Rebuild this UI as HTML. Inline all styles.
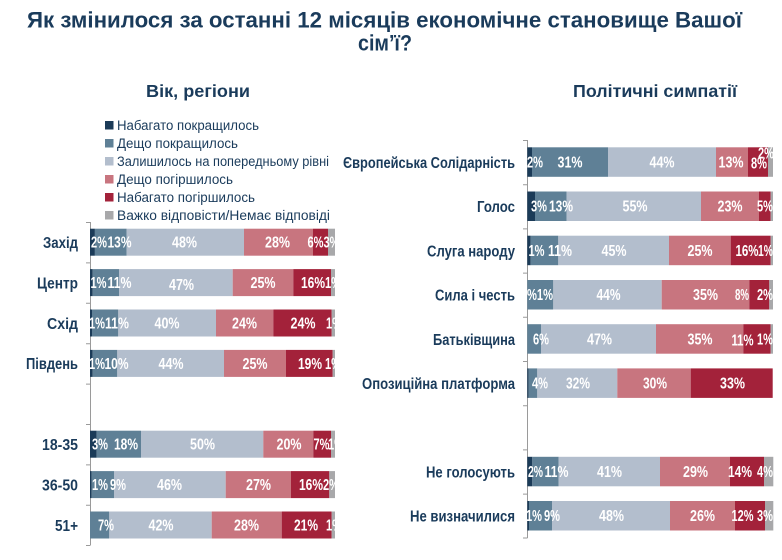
<!DOCTYPE html>
<html><head><meta charset="utf-8"><style>
html,body{margin:0;padding:0;background:#fff;}
svg{display:block;}
text{font-family:"Liberation Sans","DejaVu Sans",sans-serif;}
.t{fill:#1a3b5b;font-weight:bold;font-size:22px;}
.h{fill:#1a3b5b;font-weight:bold;font-size:17.5px;}
.c{fill:#1a3b5b;font-weight:bold;font-size:16px;text-anchor:end;}
.p{fill:#fff;font-weight:bold;font-size:15.5px;text-anchor:middle;}
.l{fill:#1a3b5b;font-size:13.5px;}
.N{fill:#1b3b58}.S{fill:#5f8096}.L{fill:#b3becd}.P{fill:#c8757f}.C{fill:#a3223a}.G{fill:#a8a8aa}
.ax{stroke:#9a9a9a;stroke-width:1;fill:none;}
</style></head><body>
<svg width="782" height="560" viewBox="0 0 782 560" xmlns="http://www.w3.org/2000/svg">
<defs>
<clipPath id="cl"><rect x="0" y="200" width="336" height="360"/></clipPath>
<clipPath id="cr"><rect x="330" y="130" width="444" height="420"/></clipPath>
</defs>
<rect width="782" height="560" fill="#fff"/>

<!-- Title -->
<text class="t" x="27" y="27.5" textLength="715" lengthAdjust="spacingAndGlyphs">Як змінилося за останні 12 місяців економічне становище Вашої</text>
<text class="t" x="358" y="50.5" textLength="54" lengthAdjust="spacingAndGlyphs">сім’ї?</text>
<text class="h" x="146" y="97" textLength="104" lengthAdjust="spacingAndGlyphs">Вік, регіони</text>
<text class="h" x="573" y="97" textLength="164" lengthAdjust="spacingAndGlyphs">Політичні симпатії</text>

<!-- Legend -->
<rect class="N" x="105" y="121" width="8.5" height="8.5"/>
<text class="l" x="117" y="129.8" textLength="142" lengthAdjust="spacingAndGlyphs">Набагато покращилось</text>
<rect class="S" x="105" y="139" width="8.5" height="8.5"/>
<text class="l" x="117" y="147.8" textLength="121" lengthAdjust="spacingAndGlyphs">Дещо покращилось</text>
<rect class="L" x="105" y="157" width="8.5" height="8.5"/>
<text class="l" x="117" y="165.8" textLength="212" lengthAdjust="spacingAndGlyphs">Залишилось на попередньому рівні</text>
<rect class="P" x="105" y="175" width="8.5" height="8.5"/>
<text class="l" x="117" y="183.8" textLength="116" lengthAdjust="spacingAndGlyphs">Дещо погіршилось</text>
<rect class="C" x="105" y="193" width="8.5" height="8.5"/>
<text class="l" x="117" y="201.8" textLength="138" lengthAdjust="spacingAndGlyphs">Набагато погіршилось</text>
<rect class="G" x="105" y="211" width="8.5" height="8.5"/>
<text class="l" x="117" y="219.8" textLength="213" lengthAdjust="spacingAndGlyphs">Важко відповісти/Немає відповіді</text>

<!-- Left axis -->
<path class="ax" d="M90.5 222V545M86 222.5H90.5M86 262.9H90.5M86 303.3H90.5M86 343.7H90.5M86 384.1H90.5M86 424.5H90.5M86 464.9H90.5M86 505.3H90.5M86 545.5H90.5"/>

<!-- Left bars -->
<g>
<rect class="N" x="90" y="228.7" width="4.9" height="27"/><rect class="S" x="94.9" y="228.7" width="31.8" height="27"/><rect class="L" x="126.7" y="228.7" width="117.3" height="27"/><rect class="P" x="244" y="228.7" width="69" height="27"/><rect class="C" x="313" y="228.7" width="15" height="27"/><rect class="G" x="328" y="228.7" width="7" height="27"/>
<rect class="N" x="90" y="269.1" width="2.7" height="27"/><rect class="S" x="92.7" y="269.1" width="26.3" height="27"/><rect class="L" x="119" y="269.1" width="113.7" height="27"/><rect class="P" x="232.7" y="269.1" width="60.6" height="27"/><rect class="C" x="293.3" y="269.1" width="37.7" height="27"/><rect class="G" x="331" y="269.1" width="4" height="27"/>
<rect class="N" x="90" y="309.5" width="2" height="27"/><rect class="S" x="92" y="309.5" width="26.3" height="27"/><rect class="L" x="118.3" y="309.5" width="97.7" height="27"/><rect class="P" x="216" y="309.5" width="57.3" height="27"/><rect class="C" x="273.3" y="309.5" width="58.4" height="27"/><rect class="G" x="331.7" y="309.5" width="3.3" height="27"/>
<rect class="N" x="90" y="349.9" width="2.7" height="27"/><rect class="S" x="92.7" y="349.9" width="24.6" height="27"/><rect class="L" x="117.3" y="349.9" width="106.7" height="27"/><rect class="P" x="224" y="349.9" width="62" height="27"/><rect class="C" x="286" y="349.9" width="46.7" height="27"/><rect class="G" x="332.7" y="349.9" width="2.3" height="27"/>
<rect class="N" x="90" y="430.7" width="6.7" height="27"/><rect class="S" x="96.7" y="430.7" width="44.3" height="27"/><rect class="L" x="141" y="430.7" width="122.3" height="27"/><rect class="P" x="263.3" y="430.7" width="50" height="27"/><rect class="C" x="313.3" y="430.7" width="17.7" height="27"/><rect class="G" x="331" y="430.7" width="4" height="27"/>
<rect class="N" x="90" y="471.1" width="1.7" height="27"/><rect class="S" x="91.7" y="471.1" width="22.3" height="27"/><rect class="L" x="114" y="471.1" width="111.7" height="27"/><rect class="P" x="225.7" y="471.1" width="65.3" height="27"/><rect class="C" x="291" y="471.1" width="38.3" height="27"/><rect class="G" x="329.3" y="471.1" width="5.7" height="27"/>
<rect class="S" x="90" y="511.5" width="19.3" height="27"/><rect class="L" x="109.3" y="511.5" width="102.4" height="27"/><rect class="P" x="211.7" y="511.5" width="70" height="27"/><rect class="C" x="281.7" y="511.5" width="50" height="27"/><rect class="G" x="331.7" y="511.5" width="3.3" height="27"/>
</g>

<!-- Left category labels -->
<text class="c" x="78" y="248" textLength="35" lengthAdjust="spacingAndGlyphs">Захід</text>
<text class="c" x="78" y="288.4" textLength="41" lengthAdjust="spacingAndGlyphs">Центр</text>
<text class="c" x="78" y="328.8" textLength="31" lengthAdjust="spacingAndGlyphs">Схід</text>
<text class="c" x="78" y="369.2" textLength="52" lengthAdjust="spacingAndGlyphs">Південь</text>
<text class="c" x="78" y="450" textLength="36" lengthAdjust="spacingAndGlyphs">18-35</text>
<text class="c" x="78" y="490.4" textLength="36" lengthAdjust="spacingAndGlyphs">36-50</text>
<text class="c" x="78" y="530.8" textLength="23" lengthAdjust="spacingAndGlyphs">51+</text>

<!-- Left pct labels -->
<g clip-path="url(#cl)">
<text class="p" x="99" y="247.7" textLength="16" lengthAdjust="spacingAndGlyphs">2%</text>
<text class="p" x="119.5" y="247.7" textLength="24" lengthAdjust="spacingAndGlyphs">13%</text>
<text class="p" x="184.5" y="247.7" textLength="25" lengthAdjust="spacingAndGlyphs">48%</text>
<text class="p" x="277.5" y="247.7" textLength="25" lengthAdjust="spacingAndGlyphs">28%</text>
<text class="p" x="315.5" y="247.7" textLength="16" lengthAdjust="spacingAndGlyphs">6%</text>
<text class="p" x="331.5" y="247.7" textLength="16" lengthAdjust="spacingAndGlyphs">3%</text>

<text class="p" x="98.5" y="288.1" textLength="16" lengthAdjust="spacingAndGlyphs">1%</text>
<text class="p" x="119.5" y="288.1" textLength="24" lengthAdjust="spacingAndGlyphs">11%</text>
<text class="p" x="181.5" y="290.1" textLength="25" lengthAdjust="spacingAndGlyphs">47%</text>
<text class="p" x="263" y="288.1" textLength="25" lengthAdjust="spacingAndGlyphs">25%</text>
<text class="p" x="313" y="288.1" textLength="24" lengthAdjust="spacingAndGlyphs">16%</text>
<text class="p" x="333" y="288.1" textLength="16" lengthAdjust="spacingAndGlyphs">1%</text>

<text class="p" x="97" y="328.5" textLength="16" lengthAdjust="spacingAndGlyphs">1%</text>
<text class="p" x="117" y="328.5" textLength="24" lengthAdjust="spacingAndGlyphs">11%</text>
<text class="p" x="167" y="328.5" textLength="25" lengthAdjust="spacingAndGlyphs">40%</text>
<text class="p" x="244.5" y="328.5" textLength="25" lengthAdjust="spacingAndGlyphs">24%</text>
<text class="p" x="303" y="328.5" textLength="25" lengthAdjust="spacingAndGlyphs">24%</text>
<text class="p" x="334" y="328.5" textLength="16" lengthAdjust="spacingAndGlyphs">1%</text>

<text class="p" x="97" y="368.9" textLength="16" lengthAdjust="spacingAndGlyphs">1%</text>
<text class="p" x="116.5" y="368.9" textLength="24" lengthAdjust="spacingAndGlyphs">10%</text>
<text class="p" x="171" y="368.9" textLength="25" lengthAdjust="spacingAndGlyphs">44%</text>
<text class="p" x="255" y="368.9" textLength="25" lengthAdjust="spacingAndGlyphs">25%</text>
<text class="p" x="310" y="368.9" textLength="24" lengthAdjust="spacingAndGlyphs">19%</text>
<text class="p" x="333" y="368.9" textLength="16" lengthAdjust="spacingAndGlyphs">1%</text>

<text class="p" x="100" y="449.7" textLength="16" lengthAdjust="spacingAndGlyphs">3%</text>
<text class="p" x="126" y="449.7" textLength="24" lengthAdjust="spacingAndGlyphs">18%</text>
<text class="p" x="202.5" y="449.7" textLength="25" lengthAdjust="spacingAndGlyphs">50%</text>
<text class="p" x="289" y="449.7" textLength="25" lengthAdjust="spacingAndGlyphs">20%</text>
<text class="p" x="321.5" y="449.7" textLength="16" lengthAdjust="spacingAndGlyphs">7%</text>
<text class="p" x="336" y="449.7" textLength="16" lengthAdjust="spacingAndGlyphs">1%</text>

<text class="p" x="100" y="490.1" textLength="16" lengthAdjust="spacingAndGlyphs">1%</text>
<text class="p" x="118" y="490.1" textLength="16" lengthAdjust="spacingAndGlyphs">9%</text>
<text class="p" x="169.5" y="490.1" textLength="25" lengthAdjust="spacingAndGlyphs">46%</text>
<text class="p" x="258.5" y="490.1" textLength="25" lengthAdjust="spacingAndGlyphs">27%</text>
<text class="p" x="311" y="490.1" textLength="24" lengthAdjust="spacingAndGlyphs">16%</text>
<text class="p" x="331" y="490.1" textLength="16" lengthAdjust="spacingAndGlyphs">2%</text>

<text class="p" x="106" y="530.5" textLength="16" lengthAdjust="spacingAndGlyphs">7%</text>
<text class="p" x="161" y="530.5" textLength="25" lengthAdjust="spacingAndGlyphs">42%</text>
<text class="p" x="246.5" y="530.5" textLength="25" lengthAdjust="spacingAndGlyphs">28%</text>
<text class="p" x="306" y="530.5" textLength="24" lengthAdjust="spacingAndGlyphs">21%</text>
<text class="p" x="334" y="530.5" textLength="16" lengthAdjust="spacingAndGlyphs">1%</text>
</g>

<!-- Right axis -->
<path class="ax" d="M527.5 140V538M523 140.5H527.5M523 184.7H527.5M523 228.9H527.5M523 273.1H527.5M523 317.3H527.5M523 361.5H527.5M523 405.7H527.5M523 449.9H527.5M523 494.1H527.5M523 538H527.5"/>

<!-- Right bars -->
<g>
<rect class="N" x="527.3" y="147.3" width="4.7" height="29.5"/><rect class="S" x="532" y="147.3" width="76" height="29.5"/><rect class="L" x="608" y="147.3" width="108" height="29.5"/><rect class="P" x="716" y="147.3" width="32" height="29.5"/><rect class="C" x="748" y="147.3" width="20" height="29.5"/><rect class="G" x="768" y="147.3" width="5" height="29.5"/>
<rect class="N" x="527.3" y="191.5" width="7.7" height="29.5"/><rect class="S" x="535" y="191.5" width="31.7" height="29.5"/><rect class="L" x="566.7" y="191.5" width="134.3" height="29.5"/><rect class="P" x="701" y="191.5" width="58" height="29.5"/><rect class="C" x="759" y="191.5" width="11.7" height="29.5"/><rect class="G" x="770.7" y="191.5" width="2.3" height="29.5"/>
<rect class="N" x="527.3" y="235.7" width="3.4" height="29.5"/><rect class="S" x="530.7" y="235.7" width="27.6" height="29.5"/><rect class="L" x="558.3" y="235.7" width="110.7" height="29.5"/><rect class="P" x="669" y="235.7" width="61.7" height="29.5"/><rect class="C" x="730.7" y="235.7" width="40" height="29.5"/><rect class="G" x="770.7" y="235.7" width="2.3" height="29.5"/>
<rect class="S" x="527.3" y="280" width="26" height="29.5"/><rect class="L" x="553.3" y="280" width="108.4" height="29.5"/><rect class="P" x="661.7" y="280" width="87.6" height="29.5"/><rect class="C" x="749.3" y="280" width="20" height="29.5"/><rect class="G" x="769.3" y="280" width="3.7" height="29.5"/>
<rect class="S" x="527.3" y="324.2" width="13.7" height="29.5"/><rect class="L" x="541" y="324.2" width="115" height="29.5"/><rect class="P" x="656" y="324.2" width="87.3" height="29.5"/><rect class="C" x="743.3" y="324.2" width="27.4" height="29.5"/><rect class="G" x="770.7" y="324.2" width="2.3" height="29.5"/>
<rect class="N" x="527.3" y="368.4" width="1.4" height="29.5"/><rect class="S" x="528.7" y="368.4" width="8.6" height="29.5"/><rect class="L" x="537.3" y="368.4" width="80" height="29.5"/><rect class="P" x="617.3" y="368.4" width="73.4" height="29.5"/><rect class="C" x="690.7" y="368.4" width="82" height="29.5"/>
<rect class="N" x="527.3" y="456.8" width="5" height="29.5"/><rect class="S" x="532.3" y="456.8" width="26.4" height="29.5"/><rect class="L" x="558.7" y="456.8" width="101.3" height="29.5"/><rect class="P" x="660" y="456.8" width="70" height="29.5"/><rect class="C" x="730" y="456.8" width="34" height="29.5"/><rect class="G" x="764" y="456.8" width="9.3" height="29.5"/>
<rect class="N" x="527.3" y="501" width="1.7" height="29.5"/><rect class="S" x="529" y="501" width="23" height="29.5"/><rect class="L" x="552" y="501" width="118" height="29.5"/><rect class="P" x="670" y="501" width="65" height="29.5"/><rect class="C" x="735" y="501" width="30" height="29.5"/><rect class="G" x="765" y="501" width="8.3" height="29.5"/>
</g>

<!-- Right category labels -->
<text class="c" x="515" y="167.9" textLength="172" lengthAdjust="spacingAndGlyphs">Європейська Солідарність</text>
<text class="c" x="515" y="212.1" textLength="38" lengthAdjust="spacingAndGlyphs">Голос</text>
<text class="c" x="515" y="256.3" textLength="88" lengthAdjust="spacingAndGlyphs">Слуга народу</text>
<text class="c" x="515" y="300.6" textLength="80" lengthAdjust="spacingAndGlyphs">Сила і честь</text>
<text class="c" x="515" y="344.8" textLength="82" lengthAdjust="spacingAndGlyphs">Батьківщина</text>
<text class="c" x="515" y="389" textLength="153" lengthAdjust="spacingAndGlyphs">Опозиційна платформа</text>
<text class="c" x="515" y="477.4" textLength="89" lengthAdjust="spacingAndGlyphs">Не голосують</text>
<text class="c" x="515" y="521.6" textLength="105" lengthAdjust="spacingAndGlyphs">Не визначилися</text>

<!-- Right pct labels -->
<g clip-path="url(#cr)">
<text class="p" x="535" y="167.5" textLength="16" lengthAdjust="spacingAndGlyphs">2%</text>
<text class="p" x="570" y="167.5" textLength="25" lengthAdjust="spacingAndGlyphs">31%</text>
<text class="p" x="662" y="167.5" textLength="25" lengthAdjust="spacingAndGlyphs">44%</text>
<text class="p" x="731" y="167.5" textLength="25" lengthAdjust="spacingAndGlyphs">13%</text>
<text class="p" x="759" y="168.5" textLength="16" lengthAdjust="spacingAndGlyphs">8%</text>
<text class="p" x="766" y="158.5" textLength="16" lengthAdjust="spacingAndGlyphs">2%</text>

<text class="p" x="539" y="211.7" textLength="16" lengthAdjust="spacingAndGlyphs">3%</text>
<text class="p" x="561" y="211.7" textLength="24" lengthAdjust="spacingAndGlyphs">13%</text>
<text class="p" x="635" y="211.7" textLength="25" lengthAdjust="spacingAndGlyphs">55%</text>
<text class="p" x="730" y="211.7" textLength="25" lengthAdjust="spacingAndGlyphs">23%</text>
<text class="p" x="765" y="211.7" textLength="16" lengthAdjust="spacingAndGlyphs">5%</text>

<text class="p" x="536.5" y="255.9" textLength="16" lengthAdjust="spacingAndGlyphs">1%</text>
<text class="p" x="560" y="255.9" textLength="24" lengthAdjust="spacingAndGlyphs">11%</text>
<text class="p" x="614" y="255.9" textLength="25" lengthAdjust="spacingAndGlyphs">45%</text>
<text class="p" x="700" y="255.9" textLength="25" lengthAdjust="spacingAndGlyphs">25%</text>
<text class="p" x="747" y="255.9" textLength="23" lengthAdjust="spacingAndGlyphs">16%</text>
<text class="p" x="765.5" y="255.9" textLength="15" lengthAdjust="spacingAndGlyphs">1%</text>

<text class="p" x="540" y="300.2" textLength="26" lengthAdjust="spacingAndGlyphs">%1%</text>
<text class="p" x="608.5" y="300.2" textLength="24" lengthAdjust="spacingAndGlyphs">44%</text>
<text class="p" x="705.5" y="300.2" textLength="25" lengthAdjust="spacingAndGlyphs">35%</text>
<text class="p" x="742" y="300.2" textLength="14" lengthAdjust="spacingAndGlyphs">8%</text>
<text class="p" x="765" y="300.2" textLength="16" lengthAdjust="spacingAndGlyphs">2%</text>

<text class="p" x="541" y="344.4" textLength="16" lengthAdjust="spacingAndGlyphs">6%</text>
<text class="p" x="599.5" y="344.4" textLength="25" lengthAdjust="spacingAndGlyphs">47%</text>
<text class="p" x="700" y="344.4" textLength="25" lengthAdjust="spacingAndGlyphs">35%</text>
<text class="p" x="742.5" y="345.4" textLength="22" lengthAdjust="spacingAndGlyphs">11%</text>
<text class="p" x="765" y="344.4" textLength="16" lengthAdjust="spacingAndGlyphs">1%</text>

<text class="p" x="540" y="388.6" textLength="16" lengthAdjust="spacingAndGlyphs">4%</text>
<text class="p" x="578" y="388.6" textLength="24" lengthAdjust="spacingAndGlyphs">32%</text>
<text class="p" x="655" y="388.6" textLength="24" lengthAdjust="spacingAndGlyphs">30%</text>
<text class="p" x="732.5" y="388.6" textLength="25" lengthAdjust="spacingAndGlyphs">33%</text>

<text class="p" x="535.5" y="477" textLength="15" lengthAdjust="spacingAndGlyphs">2%</text>
<text class="p" x="556.5" y="477" textLength="24" lengthAdjust="spacingAndGlyphs">11%</text>
<text class="p" x="609.5" y="477" textLength="25" lengthAdjust="spacingAndGlyphs">41%</text>
<text class="p" x="695.5" y="477" textLength="25" lengthAdjust="spacingAndGlyphs">29%</text>
<text class="p" x="740" y="477" textLength="24" lengthAdjust="spacingAndGlyphs">14%</text>
<text class="p" x="765" y="477" textLength="16" lengthAdjust="spacingAndGlyphs">4%</text>

<text class="p" x="534" y="521.2" textLength="16" lengthAdjust="spacingAndGlyphs">1%</text>
<text class="p" x="552" y="521.2" textLength="16" lengthAdjust="spacingAndGlyphs">9%</text>
<text class="p" x="611.5" y="521.2" textLength="25" lengthAdjust="spacingAndGlyphs">48%</text>
<text class="p" x="702.5" y="521.2" textLength="25" lengthAdjust="spacingAndGlyphs">26%</text>
<text class="p" x="742.5" y="521.2" textLength="22" lengthAdjust="spacingAndGlyphs">12%</text>
<text class="p" x="765" y="521.2" textLength="16" lengthAdjust="spacingAndGlyphs">3%</text>
</g>
</svg>
</body></html>
